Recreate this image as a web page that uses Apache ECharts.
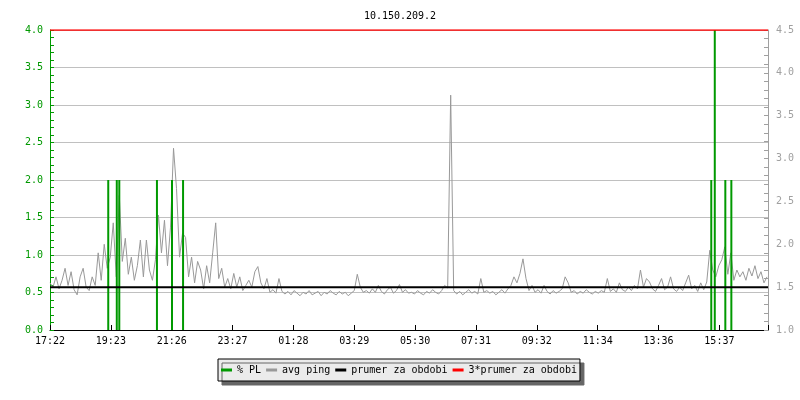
<!DOCTYPE html>
<html>
<head>
<meta charset="utf-8">
<script src="https://cdn.jsdelivr.net/npm/echarts@6/dist/echarts.min.js"></script>
<style>html,body{margin:0;padding:0;background:#fff}#c{width:800px;height:400px}</style>
</head>
<body>
<div id="c"></div>
<script>
const chartTitle = '10.150.209.2';
const xTickLabels = ['17:22','19:23','21:26','23:27','01:28','03:29','05:30','07:31','09:32','11:34','13:36','15:37'];
const xTickStepMin = 121.2;
const xMaxMin = 1430;
const pingStepMin = 6;
const avgPing = [
1.55,1.50,1.62,1.48,1.58,1.72,1.52,1.68,1.47,1.41,1.62,1.72,1.50,1.46,
1.62,1.52,1.90,1.58,2.00,1.72,1.85,2.25,1.62,2.57,1.80,2.07,1.65,1.85,1.58,1.75,2.05,
1.62,2.05,1.70,1.58,1.82,2.34,1.90,2.28,1.75,2.20,3.12,2.65,1.85,2.13,2.08,1.62,1.85,1.55,1.80,1.70,1.48,1.75,1.55,1.90,2.25,1.60,1.72,1.50,1.60,1.48,
1.66,1.50,1.62,1.46,1.52,1.58,1.50,1.68,1.74,1.55,1.48,1.60,1.44,1.47,1.43,1.60,1.45,
1.42,1.45,1.41,1.46,1.43,1.40,1.44,1.42,1.46,1.41,1.43,1.45,1.40,1.44,1.42,1.46,1.43,1.41,1.45,1.42,1.44,1.40,1.43,1.46,
1.65,1.50,1.44,
1.46,1.43,1.48,1.44,1.52,1.45,1.42,1.47,1.50,1.43,1.46,1.53,1.44,1.47,1.43,
1.44,1.42,1.46,1.43,1.41,1.45,1.43,1.47,1.44,1.42,1.46,1.52,1.49,3.74,1.46,
1.42,1.45,1.41,1.44,1.47,1.43,1.45,1.42,1.60,1.44,
1.46,1.43,1.45,1.41,1.44,1.47,1.43,1.48,
1.52,1.62,1.55,1.66,1.83,1.60,1.46,1.52,1.44,1.47,1.43,1.52,1.45,
1.42,1.46,1.43,1.45,1.48,1.62,1.55,1.44,
1.46,1.42,1.45,1.43,1.47,1.44,1.42,
1.45,1.43,1.46,1.44,1.60,1.45,1.48,1.44,1.55,1.47,1.45,1.50,1.46,1.52,1.48,1.70,1.50,1.60,1.56,1.48,
1.45,1.52,1.60,1.47,1.50,1.62,1.48,1.45,1.50,1.46,1.55,1.64,1.48,1.52,1.45,1.55,1.47,1.56,
1.93,1.70,1.62,1.75,1.82,1.97,1.65,1.90,1.58,1.70,1.62,1.68,1.58,1.72,1.63,1.75,1.60,1.68,1.55,1.62
];
const plMinutes = [116, 133, 138, 213, 243, 265, 1317, 1324, 1345, 1357];
const plValues  = [2, 2, 2, 2, 2, 2, 2, 4, 2, 2];
const periodMean = 1.5;
const periodMean3 = 4.5;
const seriesNames = ['% PL', 'avg ping', 'prumer za obdobi', '3*prumer za obdobi'];

const font = 'DejaVu Sans Mono';
const pingData = avgPing.map((v, i) => [i * pingStepMin, v]);
const plData = plMinutes.map((m, i) => [m, plValues[i]]);

const chart = echarts.init(document.getElementById('c'), null, {renderer: 'canvas'});
chart.setOption({
  backgroundColor: '#ffffff',
  animation: false,
  title: {
    text: chartTitle, left: 'center', top: 6,
    textStyle: {fontFamily: font, fontSize: 10, fontWeight: 'normal', color: '#000'}
  },
  legend: {
    data: seriesNames.map(n => ({name: n, icon: 'rect'})),
    left: 218, top: 359,
    itemWidth: 11, itemHeight: 3, itemGap: 5,
    padding: [6, 3, 6, 3],
    backgroundColor: '#ebebeb', borderColor: '#000', borderWidth: 1,
    shadowColor: '#666666', shadowBlur: 0, shadowOffsetX: 4, shadowOffsetY: 4,
    textStyle: {fontFamily: font, fontSize: 10, color: '#000'},
    selectedMode: false
  },
  grid: {left: 50, right: 32, top: 30, bottom: 70, containLabel: false},
  xAxis: {
    type: 'value', min: 0, max: xMaxMin, interval: xTickStepMin,
    axisLine: {lineStyle: {color: '#000', width: 1}},
    axisTick: {inside: true, length: 5, lineStyle: {color: '#000'}},
    splitLine: {show: false},
    axisLabel: {
      margin: 6, color: '#000', fontFamily: font, fontSize: 10,
      formatter: v => {
        const k = Math.round(v / xTickStepMin);
        return Math.abs(v - k * xTickStepMin) < 0.5 && k < xTickLabels.length ? xTickLabels[k] : '';
      }
    }
  },
  yAxis: [
    {
      type: 'value', min: 0, max: 4, interval: 0.5, position: 'left',
      axisLine: {show: true, lineStyle: {color: '#009900'}},
      axisTick: {show: true, inside: true, length: 4, lineStyle: {color: '#009900'}},
      minorTick: {show: true, splitNumber: 5, length: 4, lineStyle: {color: '#009900'}},
      splitLine: {show: true, lineStyle: {color: '#c0c0c0', width: 1}},
      axisLabel: {margin: 7, color: '#009900', fontFamily: font, fontSize: 10, formatter: v => v.toFixed(1)}
    },
    {
      type: 'value', min: 1, max: 4.5, interval: 0.5, position: 'right',
      axisLine: {show: true, lineStyle: {color: '#a0a0a0'}},
      axisTick: {show: true, inside: true, length: 4, lineStyle: {color: '#a0a0a0'}},
      minorTick: {show: true, splitNumber: 5, length: 4, lineStyle: {color: '#a0a0a0'}},
      splitLine: {show: false},
      axisLabel: {margin: 8, color: '#a0a0a0', fontFamily: font, fontSize: 10, formatter: v => v.toFixed(1)}
    }
  ],
  series: [
    {
      name: seriesNames[0], type: 'bar', yAxisIndex: 0, data: plData,
      barWidth: 2, itemStyle: {color: '#009900'}, z: 3
    },
    {
      name: seriesNames[1], type: 'line', yAxisIndex: 1, data: pingData,
      showSymbol: false, symbol: 'none', lineStyle: {color: '#999999', width: 1},
      itemStyle: {color: '#999999'}, z: 2
    },
    {
      name: seriesNames[2], type: 'line', yAxisIndex: 1,
      data: [[0, periodMean], [xMaxMin, periodMean]],
      symbol: 'none', lineStyle: {color: '#000', width: 2}, itemStyle: {color: '#000'}, z: 4
    },
    {
      name: seriesNames[3], type: 'line', yAxisIndex: 1,
      data: [[0, periodMean3], [xMaxMin, periodMean3]],
      symbol: 'none', lineStyle: {color: '#ff0000', width: 1.5}, itemStyle: {color: '#ff0000'}, z: 5
    }
  ]
});
</script>
</body>
</html>
